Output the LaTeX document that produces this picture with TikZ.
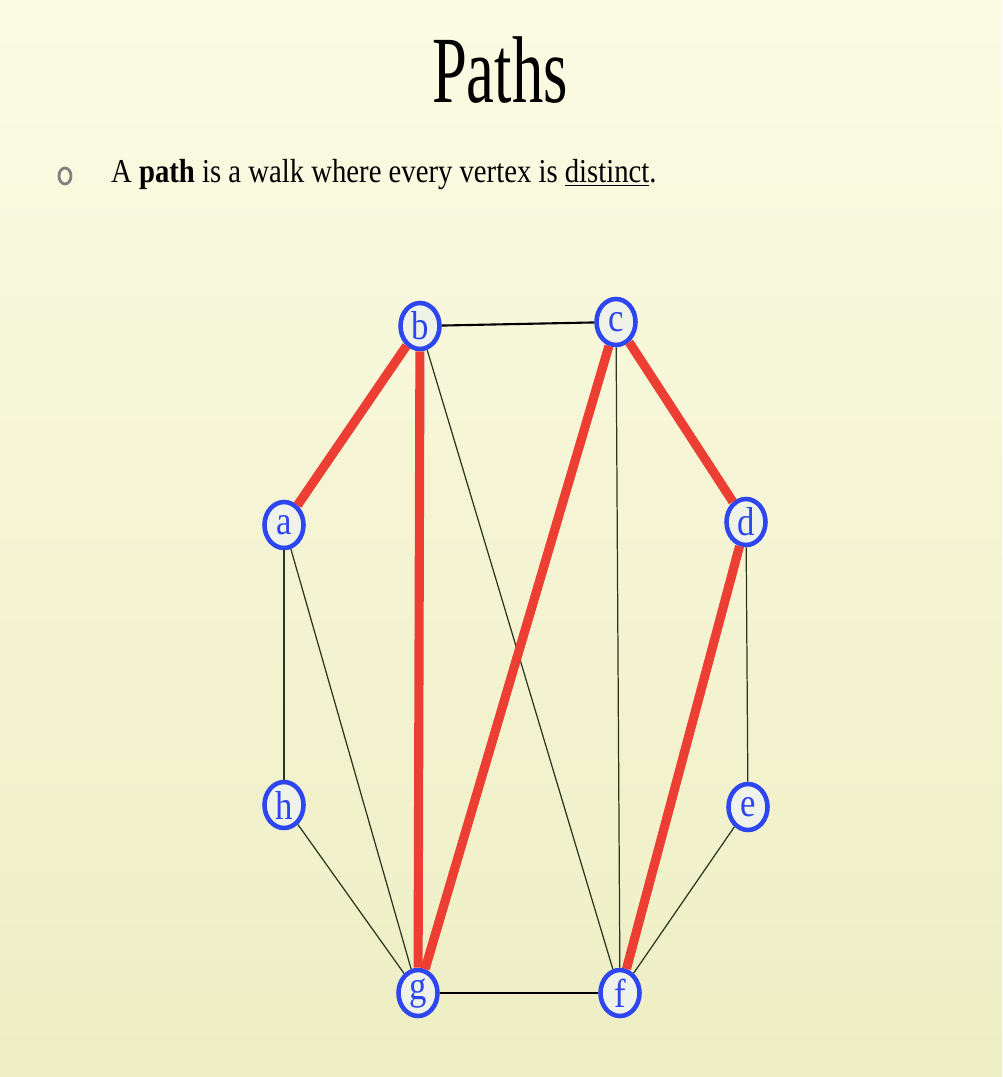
\documentclass[tikz,border=0pt]{standalone}
\usepackage{fontspec}
\setmainfont{Liberation Serif}
\newfontfamily\titlefont[FakeStretch=0.66]{Liberation Serif}
\newfontfamily\bodyfont[FakeStretch=0.86]{Liberation Serif}
\usetikzlibrary{shapes.geometric}

\definecolor{slidetop}{RGB}{251,251,228}
\definecolor{slidebot}{RGB}{238,238,196}
\definecolor{vxblue}{RGB}{45,70,240}
\definecolor{vxfill}{RGB}{238,242,232}
\definecolor{pathred}{RGB}{236,62,50}
\definecolor{thinedge}{RGB}{40,55,30}

\begin{document}
\begin{tikzpicture}[x=0.02cm, y=-0.02cm,
    vertex/.style={draw=vxblue, line width=2.6pt, ellipse, fill=vxfill,
      minimum width=0.78cm, minimum height=0.92cm, inner sep=0pt,
      text=vxblue, font=\bodyfont\fontsize{23}{26}\selectfont},
    pathedge/.style={draw=pathred, line width=5.2pt},
    thin edge/.style={draw=thinedge, line width=0.7pt},
    bold edge/.style={draw=black, line width=1.2pt}]

% slide background
\shade[top color=slidetop, bottom color=slidebot]
  (0,0) rectangle (1002,1077);
\useasboundingbox (0,0) rectangle (1002,1077);

% title and bullet
\node at (500,70) (title) [font=\titlefont\fontsize{54}{60}\selectfont] {Paths};
\draw[gray, line width=1.6pt] (65,176) ellipse (6 and 8);
\node at (105,175) (line) [anchor=west, font=\bodyfont\fontsize{19}{22}\selectfont]
  {A \textbf{path} is a walk where every vertex is \underline{distinct}.};

% vertices
\node at (420,326) (b) [vertex] {b};
\node at (616,322) (c) [vertex] {c};
\node at (284,525) (a) [vertex] {a};
\node at (746,522) (d) [vertex] {d};
\node at (284,805) (h) [vertex] {h};
\node at (748,807) (e) [vertex] {e};
\node at (418,993) (g) [vertex] {g};
\node at (620,993) (f) [vertex] {f};

% edges
\draw[bold edge] (b) -- (c);
\draw[bold edge] (g) -- (f);
\draw[thin edge] (b) -- (f);
\draw[thin edge] (c) -- (f);
\draw[thin edge] (a) -- (h);
\draw[thin edge] (a) -- (g);
\draw[thin edge] (h) -- (g);
\draw[thin edge] (d) -- (e);
\draw[thin edge] (e) -- (f);

% the path
\draw[pathedge] (a) -- (b);
\draw[pathedge] (b) -- (g);
\draw[pathedge] (g) -- (c);
\draw[pathedge] (c) -- (d);
\draw[pathedge] (d) -- (f);
\end{tikzpicture}
\end{document}
